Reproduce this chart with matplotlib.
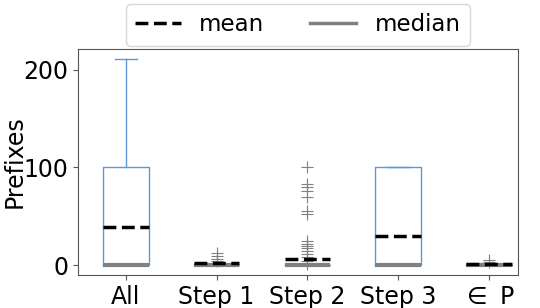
import numpy as np
import matplotlib
matplotlib.use('Agg')
import matplotlib.pyplot as plt
from matplotlib.lines import Line2D

labels = ['All', 'Step 1', 'Step 2', 'Step 3', '$\\in$ P']
q1 = [0, 0, 0, 0, 0]
q3 = [100, 0, 0, 100, 0]
med = [0, 0, 0, 0, 0]
mean = [39, 2, 6, 30, 1]
whislo = [0, 0, 0, 0, 0]
whishi = [211, 0, 0, 100, 0]
fliers = [
    [],
    [12, 9, 6, 4],
    [100, 83, 80, 76, 70, 55, 52, 25, 22, 20, 17, 14, 11, 8, 4, 1],
    [],
    [5, 3],
]

stats = []
for i in range(len(labels)):
    stats.append(dict(label=labels[i], q1=q1[i], q3=q3[i], med=med[i], mean=mean[i],
                      whislo=whislo[i], whishi=whishi[i], fliers=fliers[i]))

fig = plt.figure(figsize=(5.4, 3.08), dpi=100)
ax = fig.add_axes([0.144, 0.107, 0.815, 0.734])

blue = '#5b9bd5'
ax.bxp(stats, widths=0.5, showmeans=True, meanline=True,
       boxprops=dict(color=blue, linewidth=1),
       whiskerprops=dict(color=blue, linewidth=1),
       capprops=dict(color=blue, linewidth=1),
       medianprops=dict(color='gray', linewidth=3),
       meanprops=dict(color='black', linestyle='--', linewidth=2.5),
       flierprops=dict(marker='+', markeredgecolor='gray', markersize=8, markeredgewidth=0.8))

ax.set_xlim(0.47, 5.32)
ax.set_ylim(-10.2, 221)
ax.set_yticks([0, 100, 200])
ax.tick_params(labelsize=17, color='#555555')
ax.set_ylabel('Prefixes', fontsize=17)
ax.yaxis.set_label_coords(-0.116, 0.5)
for s in ax.spines.values():
    s.set_color('#555555')

handles = [Line2D([], [], color='black', linestyle='--', linewidth=2.5),
           Line2D([], [], color='gray', linewidth=2.5)]
ax.legend(handles, ['mean', 'median'], loc='lower center', bbox_to_anchor=(0.5, 1.0),
          ncol=2, fontsize=16.5, borderaxespad=0.15)

fig.savefig('out.png')
